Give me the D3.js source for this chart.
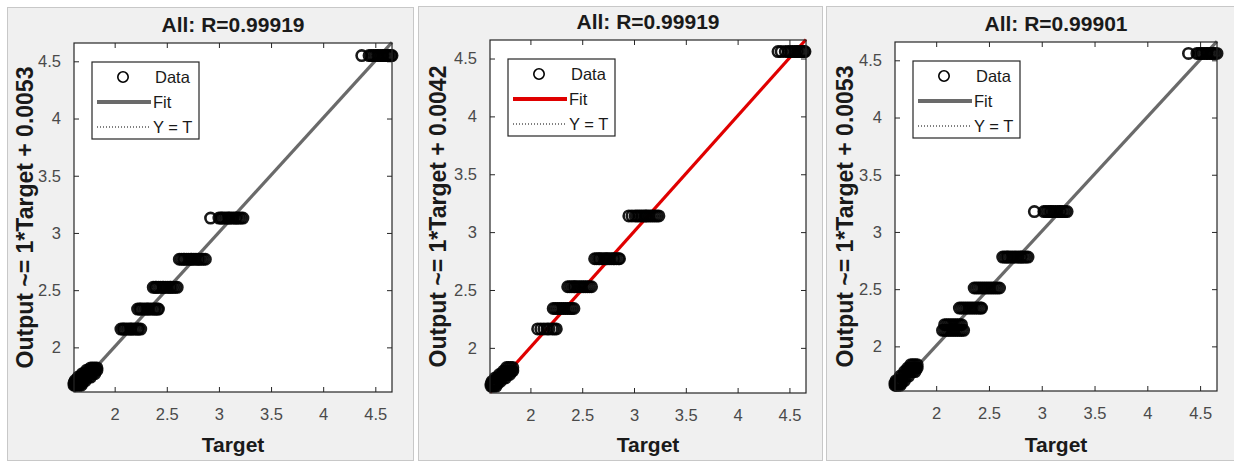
<!DOCTYPE html>
<html>
<head>
<meta charset="utf-8">
<script src="https://cdn.jsdelivr.net/npm/d3@7"></script>
<style>
  body { margin: 0; background: #fff; }
  svg { display: block; font-family: "Liberation Sans", Arial, sans-serif; }
  .tick line { stroke: #262626; }
</style>
</head>
<body>
<div id="chart"></div>
<script>
// shared axis values
const axisDomain = [1.61, 4.66];
const tickValues = [2, 2.5, 3, 3.5, 4, 4.5];

const titles = ["All: R=0.99919", "All: R=0.99919", "All: R=0.99901"];
const yLabels = ["Output ~= 1*Target + 0.0053", "Output ~= 1*Target + 0.0042", "Output ~= 1*Target + 0.0053"];
const fitSlopes = [1, 1, 1];
const fitIntercepts = [0.0053, 0.0042, 0.0053];
const legendLabels = ["Data", "Fit", "Y = T"];

// each output level with the targets seen at that level
const p1Outputs = [4.55, 3.13, 2.77, 2.525, 2.335, 2.16, 1.82, 1.80, 1.77, 1.74, 1.71, 1.69, 1.67];
const p1Targets = [
  [4.37, 4.44, 4.46, 4.48, 4.50, 4.52, 4.53, 4.55, 4.57, 4.58, 4.60, 4.62, 4.63, 4.65, 4.66],
  [2.92, 3.00, 3.02, 3.03, 3.05, 3.07, 3.09, 3.10, 3.12, 3.14, 3.16, 3.17, 3.19, 3.21, 3.23],
  [2.62, 2.64, 2.66, 2.67, 2.69, 2.71, 2.73, 2.74, 2.76, 2.78, 2.80, 2.81, 2.83, 2.85, 2.87],
  [2.37, 2.39, 2.40, 2.42, 2.44, 2.46, 2.47, 2.49, 2.51, 2.53, 2.54, 2.56, 2.58, 2.60],
  [2.22, 2.24, 2.25, 2.27, 2.29, 2.31, 2.32, 2.34, 2.36, 2.38, 2.39, 2.41, 2.42],
  [2.06, 2.08, 2.09, 2.11, 2.13, 2.15, 2.16, 2.18, 2.20, 2.22, 2.23, 2.25],
  [1.77, 1.79, 1.81, 1.83],
  [1.73, 1.75, 1.77, 1.79, 1.81, 1.83],
  [1.69, 1.71, 1.73, 1.75, 1.77, 1.79, 1.81],
  [1.65, 1.67, 1.69, 1.71, 1.73, 1.75, 1.77],
  [1.62, 1.64, 1.66, 1.68, 1.70, 1.72],
  [1.61, 1.63, 1.65, 1.67, 1.69],
  [1.61, 1.62, 1.64, 1.66, 1.68]
];

const p2Outputs = [4.56, 3.14, 2.77, 2.528, 2.34, 2.164, 1.83, 1.80, 1.77, 1.74, 1.71, 1.69, 1.67];
const p2Targets = [
  [4.39, 4.42, 4.46, 4.49, 4.51, 4.53, 4.55, 4.57, 4.58, 4.60, 4.62, 4.64, 4.65],
  [2.95, 2.98, 3.01, 3.03, 3.05, 3.07, 3.09, 3.11, 3.12, 3.14, 3.16, 3.18, 3.20, 3.22, 3.24],
  [2.62, 2.64, 2.66, 2.67, 2.69, 2.71, 2.73, 2.74, 2.76, 2.78, 2.80, 2.81, 2.83, 2.85, 2.86],
  [2.36, 2.38, 2.40, 2.42, 2.43, 2.45, 2.47, 2.49, 2.51, 2.53, 2.55, 2.57, 2.59],
  [2.22, 2.24, 2.26, 2.28, 2.30, 2.32, 2.34, 2.36, 2.38, 2.40, 2.42],
  [2.07, 2.10, 2.13, 2.16, 2.18, 2.21, 2.23, 2.25],
  [1.77, 1.79, 1.81, 1.83],
  [1.74, 1.76, 1.78, 1.80, 1.82, 1.83],
  [1.70, 1.72, 1.74, 1.76, 1.78, 1.80],
  [1.66, 1.68, 1.70, 1.72, 1.74, 1.76],
  [1.63, 1.65, 1.67, 1.69, 1.71],
  [1.62, 1.64, 1.66, 1.68],
  [1.62, 1.63, 1.65, 1.67]
];

const p3Outputs = [4.56, 3.178, 2.78, 2.51, 2.335, 2.19, 2.14, 1.84, 1.81, 1.78, 1.74, 1.70, 1.68, 1.66];
const p3Targets = [
  [4.39, 4.47, 4.49, 4.51, 4.52, 4.54, 4.56, 4.57, 4.59, 4.61, 4.62, 4.64, 4.66],
  [2.93, 3.02, 3.04, 3.06, 3.08, 3.09, 3.11, 3.13, 3.15, 3.17, 3.18, 3.20, 3.22, 3.24],
  [2.63, 2.65, 2.67, 2.68, 2.70, 2.72, 2.74, 2.76, 2.78, 2.80, 2.81, 2.83, 2.85, 2.87],
  [2.36, 2.38, 2.40, 2.42, 2.44, 2.46, 2.48, 2.50, 2.52, 2.54, 2.56, 2.58, 2.60],
  [2.22, 2.24, 2.26, 2.28, 2.30, 2.32, 2.34, 2.36, 2.38, 2.40, 2.42, 2.43],
  [2.08, 2.10, 2.12, 2.14, 2.16, 2.18, 2.20, 2.22, 2.24],
  [2.06, 2.08, 2.10, 2.12, 2.14, 2.16, 2.18, 2.20, 2.22, 2.24, 2.26],
  [1.76, 1.78, 1.80, 1.82],
  [1.73, 1.75, 1.77, 1.79, 1.81, 1.82],
  [1.70, 1.72, 1.74, 1.76, 1.78, 1.80],
  [1.66, 1.68, 1.70, 1.72, 1.74],
  [1.62, 1.64, 1.66, 1.68, 1.70],
  [1.61, 1.63, 1.65, 1.67],
  [1.61, 1.62, 1.64, 1.66]
];

const panelOutputs = [p1Outputs, p2Outputs, p3Outputs];
const panelTargets = [p1Targets, p2Targets, p3Targets];

// layout
const W = 1234, H = 461;
const frames = [[7, 7, 406, 453], [418, 6, 404, 454], [826, 6, 408, 454]];
const boxes = [
  {x: 74, y: 43, w: 318, h: 349},
  {x: 490, y: 40, w: 316, h: 353},
  {x: 895, y: 42, w: 322, h: 349}
];
const yLabelX = [33, 446, 853];
const fitColors = ["#6a6a6a", "#e00000", "#6a6a6a"];

const svg = d3.select("#chart").append("svg")
  .attr("width", W)
  .attr("height", H);

frames.forEach(f => {
  svg.append("rect")
    .attr("x", f[0] + 0.5).attr("y", f[1] + 0.5)
    .attr("width", f[2]).attr("height", f[3])
    .attr("fill", "#f0f0f0")
    .attr("stroke", "#c8c8c8");
});

boxes.forEach((b, i) => {
  const x = d3.scaleLinear().domain(axisDomain).range([0, b.w]);
  const y = d3.scaleLinear().domain(axisDomain).range([b.h, 0]);

  const g = svg.append("g").attr("transform", `translate(${b.x},${b.y})`);

  g.append("rect")
    .attr("width", b.w).attr("height", b.h)
    .attr("fill", "#fff");

  const fmt = d3.format("");
  g.append("g")
    .attr("transform", `translate(0,${b.h})`)
    .call(d3.axisBottom(x).tickValues(tickValues).tickFormat(fmt).tickSizeInner(-5).tickSizeOuter(0).tickPadding(16))
    .call(a => a.select(".domain").remove());
  g.append("g")
    .call(d3.axisTop(x).tickValues(tickValues).tickFormat("").tickSizeInner(-5).tickSizeOuter(0))
    .call(a => a.select(".domain").remove());
  g.append("g")
    .call(d3.axisLeft(y).tickValues(tickValues).tickFormat(fmt).tickSizeInner(-5).tickSizeOuter(0).tickPadding(13))
    .call(a => a.select(".domain").remove());
  g.append("g")
    .attr("transform", `translate(${b.w},0)`)
    .call(d3.axisRight(y).tickValues(tickValues).tickFormat("").tickSizeInner(-5).tickSizeOuter(0))
    .call(a => a.select(".domain").remove());
  g.selectAll(".tick text")
    .attr("fill", "#4a4a4a")
    .attr("font-family", "Liberation Sans, Arial, sans-serif")
    .attr("font-size", 16.5);

  // Y = T
  g.append("line")
    .attr("x1", x(axisDomain[0])).attr("y1", y(axisDomain[0]))
    .attr("x2", x(axisDomain[1])).attr("y2", y(axisDomain[1]))
    .attr("stroke", "#000").attr("stroke-width", 1).attr("stroke-dasharray", "1,2");

  // fit line
  const fx0 = axisDomain[0], fx1 = axisDomain[1];
  g.append("line")
    .attr("x1", x(fx0)).attr("y1", y(fitSlopes[i] * fx0 + fitIntercepts[i]))
    .attr("x2", x(fx1)).attr("y2", y(fitSlopes[i] * fx1 + fitIntercepts[i]))
    .attr("stroke", fitColors[i]).attr("stroke-width", 3.2);

  // data points
  const pts = [];
  panelOutputs[i].forEach((o, k) => {
    panelTargets[i][k].forEach(t => pts.push({t: t, o: o}));
  });
  g.selectAll(".pt")
    .data(pts)
    .enter()
    .append("circle")
    .attr("class", "pt")
    .attr("cx", d => x(d.t))
    .attr("cy", d => y(d.o))
    .attr("r", 5.2)
    .attr("fill", "none")
    .attr("stroke", "#000")
    .attr("stroke-opacity", 0.9)
    .attr("stroke-width", 2.6);

  // box
  g.append("rect")
    .attr("width", b.w).attr("height", b.h)
    .attr("fill", "none")
    .attr("stroke", "#262626").attr("stroke-width", 1.2);

  // legend
  const lg = g.append("g").attr("transform", "translate(18,19)");
  lg.append("rect")
    .attr("width", 107).attr("height", 77)
    .attr("fill", "#fff").attr("stroke", "#262626").attr("stroke-width", 1.2);
  lg.append("circle")
    .attr("cx", 31).attr("cy", 15).attr("r", 5.2)
    .attr("fill", "none").attr("stroke", "#000").attr("stroke-width", 1.6);
  lg.append("line")
    .attr("x1", 5).attr("x2", 59).attr("y1", 40).attr("y2", 40)
    .attr("stroke", fitColors[i]).attr("stroke-width", 4);
  lg.append("line")
    .attr("x1", 5).attr("x2", 59).attr("y1", 65).attr("y2", 65)
    .attr("stroke", "#000").attr("stroke-width", 1).attr("stroke-dasharray", "1,2");
  lg.selectAll(".lt")
    .data(legendLabels)
    .enter()
    .append("text")
    .attr("x", (d, k) => k === 0 ? 63 : 61)
    .attr("y", (d, k) => 15 + k * 25 + 6)
    .attr("font-size", 16.5)
    .attr("fill", "#1a1a1a")
    .text(d => d);

  // title and labels
  g.append("text")
    .attr("x", b.w / 2).attr("y", -11)
    .attr("text-anchor", "middle")
    .attr("font-size", 21).attr("font-weight", "bold")
    .attr("fill", "#1a1a1a")
    .text(titles[i]);

  g.append("text")
    .attr("x", b.w / 2).attr("y", 452 - b.y)
    .attr("text-anchor", "middle")
    .attr("font-size", 21).attr("font-weight", "bold")
    .attr("fill", "#1a1a1a")
    .text("Target");

  svg.append("text")
    .attr("transform", `translate(${yLabelX[i]},${b.y + b.h / 2}) rotate(-90)`)
    .attr("text-anchor", "middle")
    .attr("font-size", 23).attr("font-weight", "bold")
    .attr("fill", "#1a1a1a")
    .text(yLabels[i]);
});
</script>
</body>
</html>
